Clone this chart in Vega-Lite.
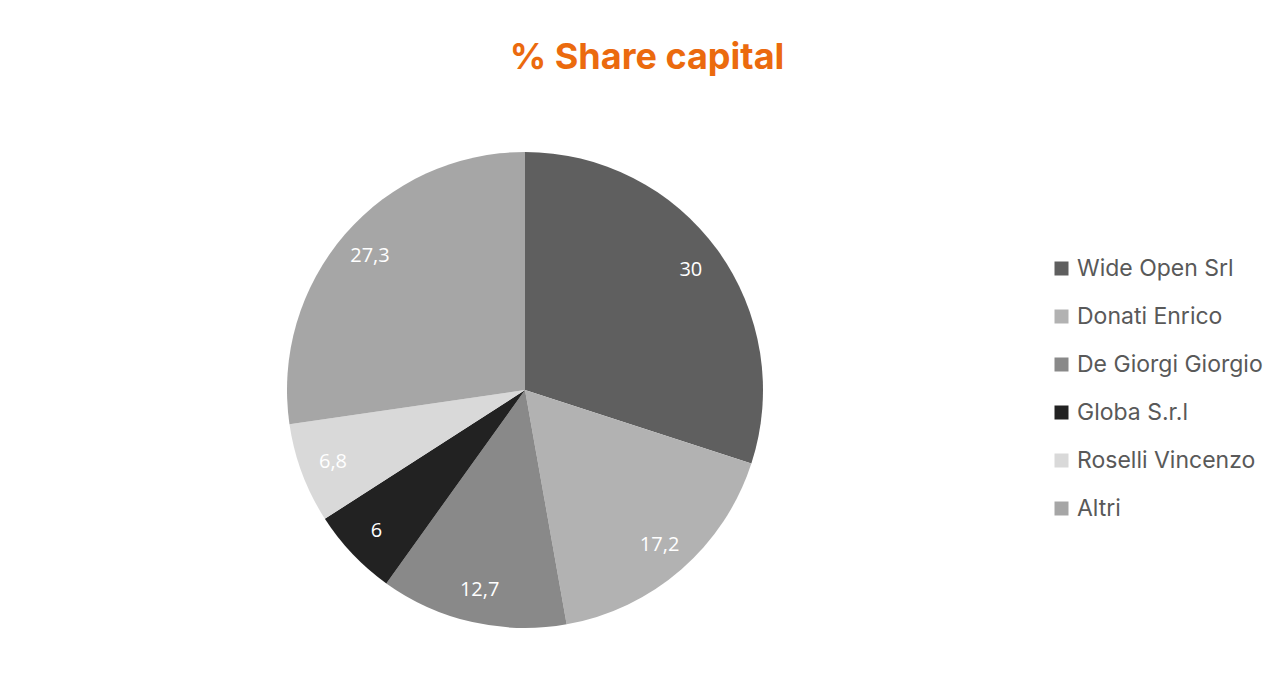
{
  "$schema": "https://vega.github.io/schema/vega-lite/v6.json",
  "autosize": {"type": "none"},
  "width": 476,
  "height": 476,
  "padding": {"left": 287, "top": 152, "right": 511, "bottom": 58},
  "background": "white",
  "config": {
    "view": {"stroke": null},
    "locale": {"number": {"decimal": ",", "thousands": ".", "grouping": [3], "currency": ["€", ""]}}
  },
  "title": {
    "text": "% Share capital",
    "color": "#EB6A0E",
    "font": "Inter",
    "fontWeight": 700,
    "fontSize": 36,
    "anchor": "middle",
    "dx": 122,
    "offset": 75
  },
  "data": {
    "values": [
      {"name": "Wide Open Srl", "share": 30, "idx": 1},
      {"name": "Donati Enrico", "share": 17.2, "idx": 2},
      {"name": "De Giorgi Giorgio", "share": 12.7, "idx": 3},
      {"name": "Globa S.r.l", "share": 6, "idx": 4},
      {"name": "Roselli Vincenzo", "share": 6.8, "idx": 5},
      {"name": "Altri", "share": 27.3, "idx": 6}
    ]
  },
  "encoding": {
    "theta": {"field": "share", "type": "quantitative", "stack": true},
    "order": {"field": "idx", "type": "quantitative"},
    "color": {
      "field": "name",
      "type": "nominal",
      "sort": null,
      "scale": {
        "domain": ["Wide Open Srl", "Donati Enrico", "De Giorgi Giorgio", "Globa S.r.l", "Roselli Vincenzo", "Altri"],
        "range": ["#5f5f5f", "#b2b2b2", "#898989", "#222222", "#d9d9d9", "#a6a6a6"]
      },
      "legend": {
        "title": null,
        "orient": "none",
        "legendX": 763,
        "legendY": 105,
        "symbolType": "square",
        "symbolSize": 196,
        "symbolStrokeWidth": 0,
        "labelFont": "Inter",
        "labelFontSize": 23,
        "labelColor": "#595959",
        "labelOffset": 4,
        "rowPadding": 24,
        "labelLimit": 300
      }
    }
  },
  "layer": [
    {"mark": {"type": "arc", "outerRadius": 238}},
    {
      "mark": {"type": "text", "radius": 205, "color": "white", "font": "Open Sans", "fontSize": 20},
      "encoding": {
        "text": {"field": "share", "type": "quantitative", "format": "~g"},
        "color": {"value": "white"}
      }
    }
  ]
}
